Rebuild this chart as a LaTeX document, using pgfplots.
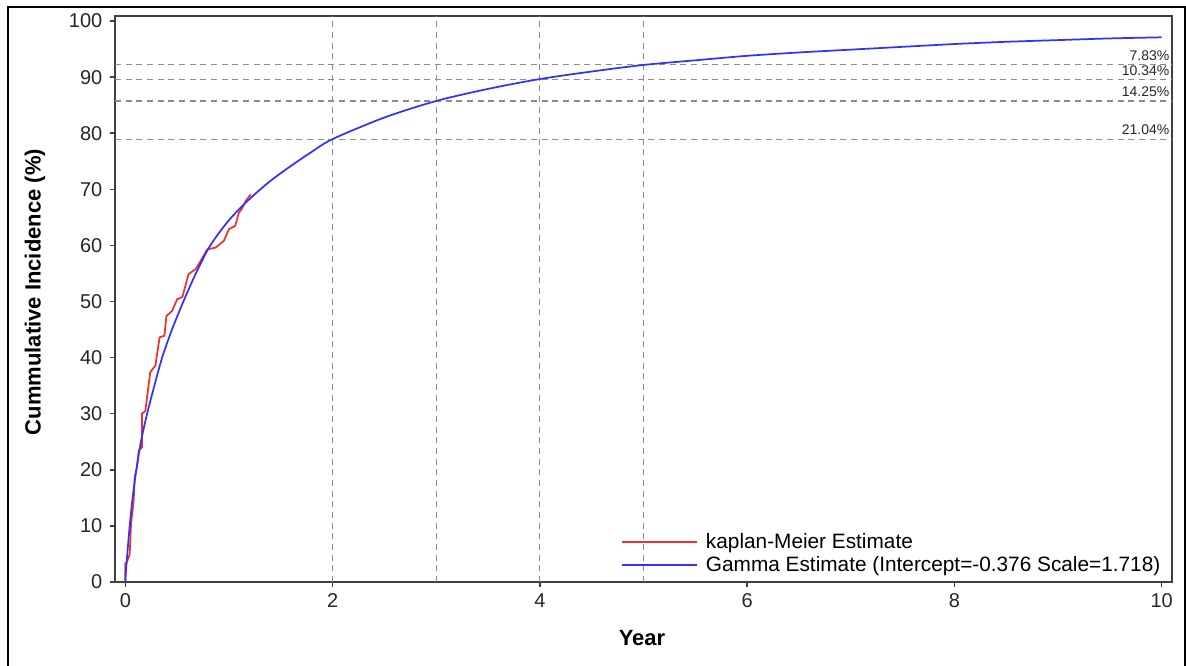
\documentclass[border=0pt]{standalone}
\usepackage{fontspec}
\setmainfont{Liberation Sans}
\usepackage{pgfplots}
\pgfplotsset{compat=1.18}
\definecolor{kmred}{RGB}{245,45,45}
\definecolor{gblue}{RGB}{50,50,250}
\definecolor{refgray}{RGB}{140,140,140}
\begin{document}
\begin{tikzpicture}
\useasboundingbox (0,0) rectangle (889.5pt,499.5pt);
\draw[black, line width=0.9pt] (6pt,0) -- (6pt,494.25pt) -- (888.75pt,494.25pt) -- (888.75pt,0);
\begin{axis}[
  at={(86.25pt,63pt)}, anchor=south west,
  scale only axis, width=792.75pt, height=424.5pt,
  xmin=-0.1, xmax=10.1, ymin=0, ymax=100.9,
  xtick={0,2,4,6,8,10}, ytick={0,10,20,30,40,50,60,70,80,90,100},
  tick align=outside, major tick length=4pt,
  xtick pos=bottom, ytick pos=left,
  axis line style={black!75, line width=1.4pt},
  tick style={black!75, line width=1.1pt},
  ticklabel style={font=\fontsize{15}{16}\selectfont, text=black!85},
  yticklabel style={xshift=-2pt},
  xticklabel style={yshift=-1pt},
  /pgf/number format/assume math mode=true,
  legend style={at={(rel axis cs:0.993,0.008)}, anchor=south east, draw=none, fill=none,
    font=\fontsize{15.6}{17}\selectfont, row sep=0pt, inner sep=1pt},
  legend cell align=left,
  legend image code/.code={\draw[#1] (0pt,0pt) -- (56pt,0pt); \path (60pt,0pt);},
]
% reference lines
\addplot[refgray, line width=0.8pt, dash pattern=on 4.5pt off 3.5pt, forget plot] coordinates {(-0.1,92.17) (10.1,92.17)};
\addplot[refgray, line width=0.8pt, dash pattern=on 4.5pt off 3.5pt, forget plot] coordinates {(-0.1,89.66) (10.1,89.66)};
\addplot[refgray, line width=0.8pt, dash pattern=on 4.5pt off 3.5pt, forget plot] coordinates {(-0.1,85.75) (10.1,85.75)};
\addplot[refgray, line width=0.8pt, dash pattern=on 4.5pt off 3.5pt, forget plot] coordinates {(-0.1,78.96) (10.1,78.96)};
\addplot[refgray, line width=0.8pt, dash pattern=on 4.5pt off 3.5pt, forget plot] coordinates {(2,0) (2,100.9)};
\addplot[refgray, line width=0.8pt, dash pattern=on 4.5pt off 3.5pt, forget plot] coordinates {(3,0) (3,100.9)};
\addplot[refgray, line width=0.8pt, dash pattern=on 4.5pt off 3.5pt, forget plot] coordinates {(4,0) (4,100.9)};
\addplot[refgray, line width=0.8pt, dash pattern=on 4.5pt off 3.5pt, forget plot] coordinates {(5,0) (5,100.9)};
% Kaplan-Meier
\addplot[kmred, line width=1.3pt] coordinates {
(0,0) (0,3.3) (0.016,3.6) (0.042,5) (0.055,10.4) (0.08,14.5) (0.09,18.7) (0.113,20.5)
(0.129,23.4) (0.16,24) (0.16,30) (0.193,30.5) (0.24,37.4) (0.29,38.6) (0.33,43.6)
(0.377,43.9) (0.396,47.4) (0.45,48.3) (0.5,50.4) (0.55,50.8) (0.61,54.9) (0.68,55.8)
(0.725,57.2) (0.79,59.3) (0.87,59.6) (0.95,60.8) (1.0,62.9) (1.06,63.5) (1.095,65.8)
(1.13,66.7) (1.16,67.9) (1.21,69.1)};
\addlegendentry{kaplan-Meier Estimate}
% Gamma
\addplot[gblue, line width=1.3pt, smooth] coordinates {
(0,0) (0.01,3) (0.042,10) (0.07,15) (0.106,20) (0.15,25) (0.21,30) (0.28,35) (0.355,40)
(0.45,45) (0.56,50) (0.68,55) (0.82,60) (1.0,64.5) (1.2,68.3) (1.4,71.5) (1.6,74.2)
(1.8,76.7) (2.0,78.96) (2.5,82.8) (3.0,85.75) (3.5,87.9) (4.0,89.66) (4.5,91.0)
(5.0,92.17) (5.5,93.0) (6.0,93.8) (6.5,94.4) (7.0,94.9) (7.5,95.4) (8.0,95.9)
(8.5,96.3) (9.0,96.6) (9.5,96.9) (10.0,97.1)};
\addlegendentry{Gamma Estimate (Intercept=-0.376 Scale=1.718)}
% percentage labels
\begin{scope}[every node/.style={font=\fontsize{10.5}{12}\selectfont, text=black!85, anchor=south east, inner sep=1pt}]
\node at (axis cs:10.09,92.6) {7.83\%};
\node at (axis cs:10.09,90.0) {10.34\%};
\node at (axis cs:10.09,86.2) {14.25\%};
\node at (axis cs:10.09,79.4) {21.04\%};
\end{scope}
\end{axis}
\node[rotate=90, font=\bfseries\fontsize{16.5}{18}\selectfont] at (26.25pt,280.5pt) {Cummulative Incidence (\%)};
\node[font=\bfseries\fontsize{16.5}{18}\selectfont] at (481.5pt,21pt) {Year};
\end{tikzpicture}
\end{document}
